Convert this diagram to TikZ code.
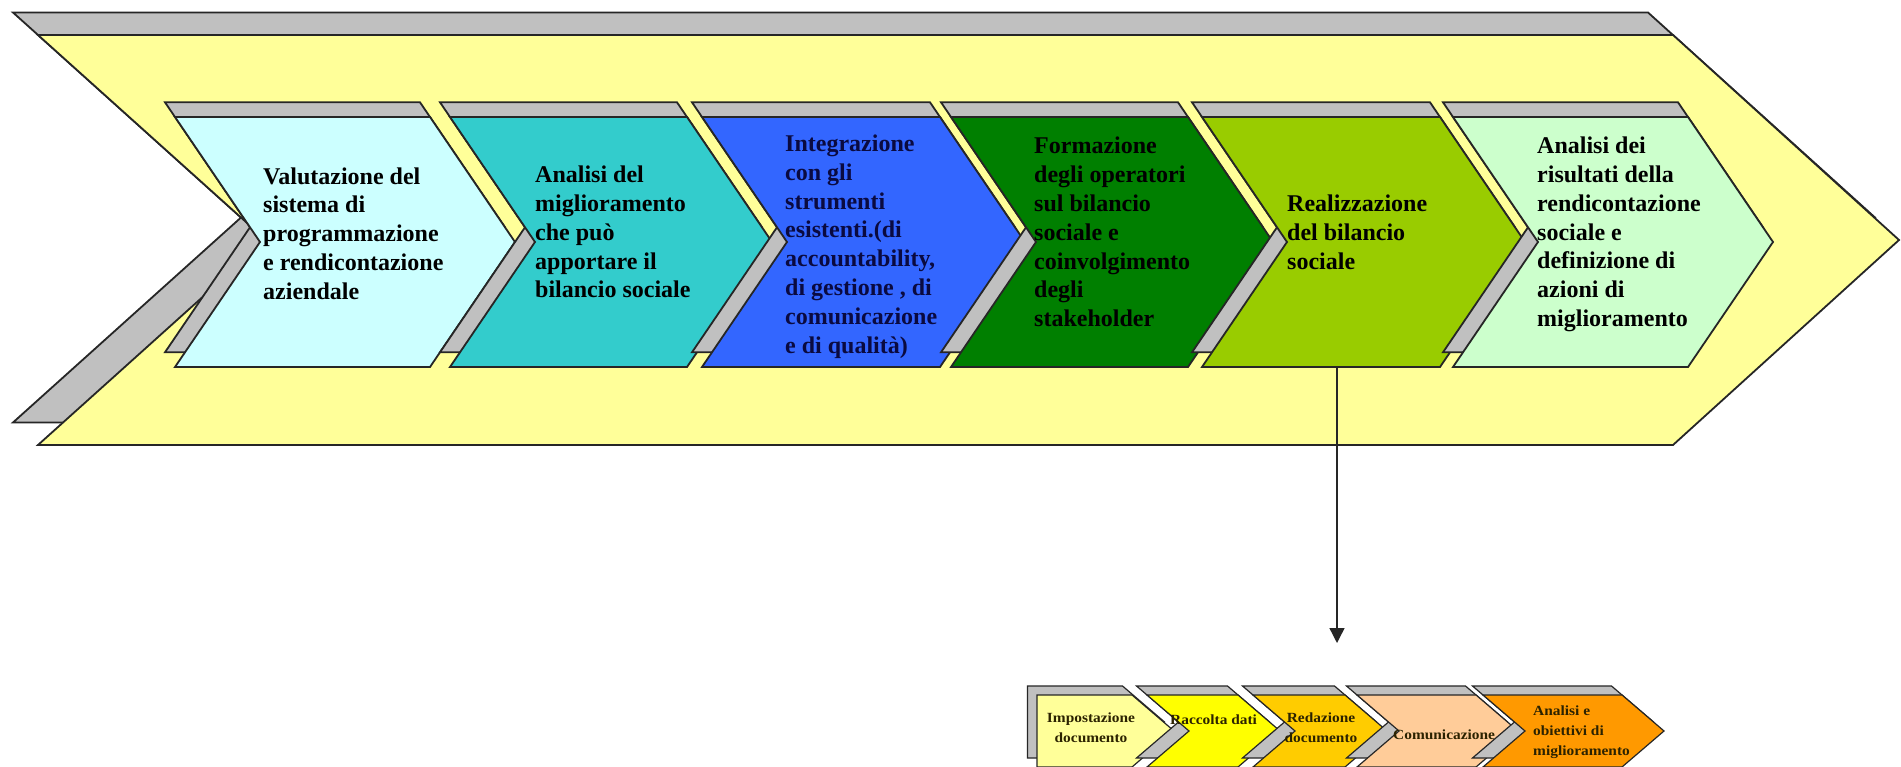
\documentclass[tikz,border=0pt]{standalone}
\usepackage{fontspec}
\setmainfont{Liberation Serif}
\newfontfamily\smallfont[FakeStretch=1.1]{Liberation Serif}
\usetikzlibrary{arrows.meta}
\definecolor{bgyellow}{HTML}{FFFF99}
\definecolor{shadowgray}{HTML}{C0C0C0}
\definecolor{edgecol}{HTML}{262626}
\definecolor{cOne}{HTML}{CCFFFF}
\definecolor{cTwo}{HTML}{33CCCC}
\definecolor{cThree}{HTML}{3366FF}
\definecolor{cFour}{HTML}{007F00}
\definecolor{cFive}{HTML}{99CC00}
\definecolor{cSix}{HTML}{CCFFCC}
\definecolor{sOne}{HTML}{FFFF99}
\definecolor{sTwo}{HTML}{FFFF00}
\definecolor{sThree}{HTML}{FFCC00}
\definecolor{sFour}{HTML}{FFCC99}
\definecolor{sFive}{HTML}{FF9900}
\definecolor{navytext}{HTML}{0A0A40}
\definecolor{smalltext}{HTML}{2B2200}
% big chevron row: x0 (front top-left), width of top edge, fill colour
\newcommand{\mychev}[3]{%
  \draw[backface] ({#1-10},{117-14.7}) -- ++(#2,0) -- ++(85,125) -- ++(-85,125) -- ++(-#2,0) -- ++(85,-125) -- cycle;
  \draw[frontface,fill=#3] (#1,117) -- ++(#2,0) -- ++(85,125) -- ++(-85,125) -- ++(-#2,0) -- ++(85,-125) -- cycle;
}
% small chevron row
\newcommand{\mysmallchev}[3]{%
  \draw[smallback] ({#1-10.5},{695-9}) -- ++(#2,0) -- ++(42,36) -- ++(-42,36) -- ++(-#2,0) -- ++(42,-36) -- cycle;
  \draw[smallfront,fill=#3] (#1,695) -- ++(#2,0) -- ++(42,36) -- ++(-42,36) -- ++(-#2,0) -- ++(42,-36) -- cycle;
}
\begin{document}
\begin{tikzpicture}[x=1pt,y=-1pt,
  backface/.style={fill=shadowgray,draw=edgecol,line width=1.8pt,line join=miter},
  frontface/.style={draw=edgecol,line width=1.8pt,line join=miter},
  smallback/.style={fill=shadowgray,draw=edgecol,line width=1.2pt},
  smallfront/.style={draw=edgecol,line width=1.2pt},
  bigtext/.style={anchor=west,align=left,inner sep=0pt,
    font=\fontsize{24}{28.8}\selectfont\bfseries},
  smalltxt/.style={inner sep=0pt,text=smalltext,
    font=\smallfont\fontsize{14}{20}\selectfont\bfseries},
  conn/.style={line width=1.4pt,draw=edgecol,-{Triangle[width=15pt,length=15pt]}}]
\useasboundingbox (0,0) rectangle (1901,767);
\fill[white] (0,0) rectangle (1901,767);

% big background chevron
\draw[backface] (13,12.5) -- (1648,12.5) -- (1875,217.5) -- (1648,422.5) -- (13,422.5) -- (241,217.5) -- cycle;
\draw[frontface,fill=bgyellow] (38,35) -- (1673,35) -- (1899,240) -- (1673,445) -- (38,445) -- (266,240) -- cycle;

% row of six chevrons
\mychev{175}{255}{cOne}
\mychev{450}{237}{cTwo}
\mychev{702}{238}{cThree}
\mychev{951}{237}{cFour}
\mychev{1202}{238}{cFive}
\mychev{1453}{235}{cSix}

\node[bigtext] (t1) at (263,233.5) {Valutazione del\\sistema di\\programmazione\\e rendicontazione\\aziendale};
\node[bigtext] (t2) at (535,232) {Analisi del\\miglioramento\\che può\\apportare il\\bilancio sociale};
\node[bigtext,text=navytext] (t3) at (785,246.5) {Integrazione\\con gli\\strumenti\\esistenti.(di\\accountability,\\di gestione , di\\comunicazione\\e di qualità)};
\node[bigtext] (t4) at (1034,232) {Formazione\\degli operatori\\sul bilancio\\sociale e\\coinvolgimento\\degli\\stakeholder};
\node[bigtext] (t5) at (1287,232) {Realizzazione\\del bilancio\\sociale};
\node[bigtext] (t6) at (1537,234.5) {Analisi dei\\risultati della\\rendicontazione\\sociale e\\definizione di\\azioni di\\miglioramento};

% connector
\coordinate (c5b) at (1337,367);
\coordinate (rowtop) at (1337,643);
\draw[conn] (c5b) -- (rowtop);

% small row
\draw[smallback] (1027.5,686) -- (1122.5,686) -- (1164.5,722) -- (1122.5,758) -- (1027.5,758) -- cycle;
\draw[smallfront,fill=sOne] (1037,695) -- (1132,695) -- (1174,731) -- (1132,767) -- (1037,767) -- cycle;
\mysmallchev{1147}{91}{sTwo}
\mysmallchev{1253}{92}{sThree}
\mysmallchev{1357}{119}{sFour}
\mysmallchev{1483}{139}{sFive}

\node[smalltxt,align=center] (s1) at (1091,728) {Impostazione\\documento};
\node[smalltxt,anchor=west] (s2) at (1170,720) {Raccolta dati};
\node[smalltxt,align=center] (s3) at (1321,728) {Redazione\\documento};
\node[smalltxt,anchor=west] (s4) at (1393,735) {Comunicazione};
\node[smalltxt,anchor=west,align=left] (s5) at (1533,732) {Analisi e\\obiettivi di\\miglioramento};
\end{tikzpicture}
\end{document}
